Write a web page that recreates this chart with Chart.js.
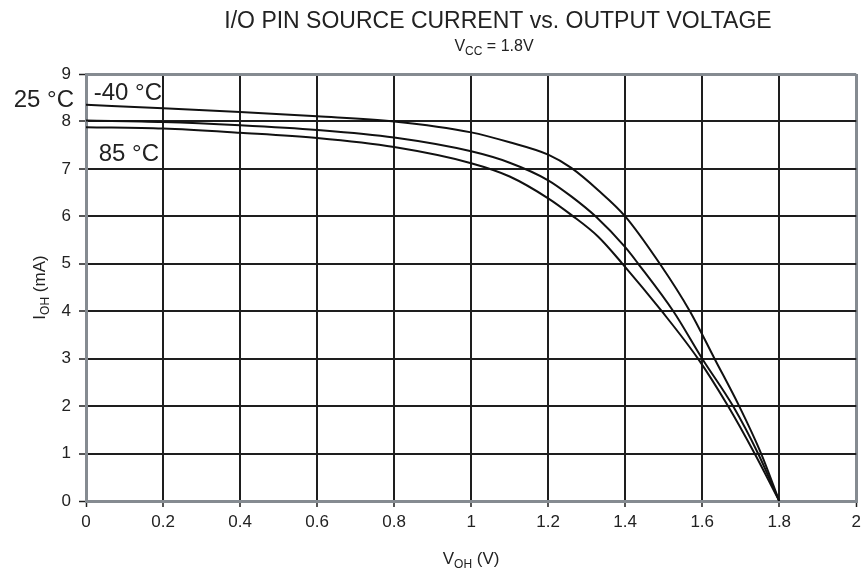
<!DOCTYPE html>
<html>
<head>
<meta charset="utf-8">
<script src="https://cdn.jsdelivr.net/npm/chart.js@4"></script>
<style>
  html, body { margin: 0; padding: 0; background: #fff; }
  #wrap { width: 866px; height: 577px; }
</style>
</head>
<body>
<div id="wrap"><canvas id="myChart" width="866" height="577"></canvas></div>
<script>
// values (V_OH in volts, I_OH in mA)
const xM40 = [0, 0.2, 0.4, 0.6, 0.8, 1.0, 1.1, 1.2, 1.26, 1.33, 1.4, 1.49, 1.568, 1.632, 1.696, 1.753, 1.8];
const yM40 = [8.35, 8.28, 8.2, 8.11, 8.0, 7.77, 7.56, 7.3, 7.02, 6.55, 6.0, 5, 4, 3, 2, 1, 0];

const x25 = [0, 0.2, 0.4, 0.6, 0.8, 1.0, 1.1, 1.2, 1.26, 1.323, 1.4, 1.434, 1.525, 1.6, 1.68, 1.745, 1.8];
const y25 = [8.02, 7.99, 7.92, 7.82, 7.66, 7.37, 7.13, 6.76, 6.42, 6.0, 5.35, 5, 4, 3, 2, 1, 0];

const x85 = [0, 0.2, 0.4, 0.6, 0.8, 1.0, 1.1, 1.2, 1.26, 1.33, 1.393, 1.495, 1.589, 1.667, 1.736, 1.8];
const y85 = [7.88, 7.85, 7.76, 7.65, 7.46, 7.12, 6.84, 6.38, 6.03, 5.57, 5, 4, 3, 2, 1, 0];

const xTickLabels = ["0", "0.2", "0.4", "0.6", "0.8", "1", "1.2", "1.4", "1.6", "1.8", "2"];
const yTickLabels = ["0", "1", "2", "3", "4", "5", "6", "7", "8", "9"];

const FONT = "'Liberation Sans', Arial, sans-serif";
const TEXT = "#222";
const GRID = "#1e1e1e";
const FRAME = "#858b91";

const toPoints = (xs, ys) => xs.map((x, i) => ({ x: x, y: ys[i] }));

// draws text with subscript parts, centred on x
const drawRich = (ctx, parts, x, y, size) => {
    const subSize = Math.round(size * 0.72);
    let w = 0;
    parts.forEach((p) => {
        ctx.font = (p.sub ? subSize : size) + "px " + FONT;
        p.w = ctx.measureText(p.t).width;
        w += p.w;
    });
    let cx = x - w / 2;
    ctx.textAlign = "left";
    ctx.textBaseline = "alphabetic";
    parts.forEach((p) => {
        ctx.font = (p.sub ? subSize : size) + "px " + FONT;
        ctx.fillText(p.t, cx, p.sub ? y + size * 0.22 : y);
        cx += p.w;
    });
};

const textPlugin = {
    id: "texts",
    afterDraw(chart) {
        const ctx = chart.ctx;
        const xs = chart.scales.x;
        const ys = chart.scales.y;
        const area = chart.chartArea;
        ctx.save();
        ctx.fillStyle = TEXT;

        // title + subtitle
        ctx.font = "23px " + FONT;
        ctx.textAlign = "center";
        ctx.textBaseline = "alphabetic";
        ctx.fillText("I/O PIN SOURCE CURRENT vs. OUTPUT VOLTAGE", 498, 28);
        drawRich(ctx, [{ t: "V" }, { t: "CC", sub: true }, { t: " = 1.8V" }], 494, 51, 16);

        // x axis title
        drawRich(ctx, [{ t: "V" }, { t: "OH", sub: true }, { t: " (V)" }], (area.left + area.right) / 2, 564, 17);

        // y axis title
        ctx.save();
        ctx.translate(45, (area.top + area.bottom) / 2);
        ctx.rotate(-Math.PI / 2);
        drawRich(ctx, [{ t: "I" }, { t: "OH", sub: true }, { t: " (mA)" }], 0, 0, 17);
        ctx.restore();

        // curve labels
        ctx.font = "24px " + FONT;
        ctx.textBaseline = "middle";
        ctx.textAlign = "left";
        ctx.fillText("-40 °C", xs.getPixelForValue(0.02), ys.getPixelForValue(8.6));
        ctx.fillText("85 °C", xs.getPixelForValue(0.033), ys.getPixelForValue(7.3));
        ctx.textAlign = "right";
        ctx.fillText("25 °C", area.left - 12, ys.getPixelForValue(8.45));
        ctx.restore();
    },
};

const edgeColor = (min, max) => (c) =>
    c.tick && (Math.abs(c.tick.value - min) < 1e-6 || Math.abs(c.tick.value - max) < 1e-6) ? FRAME : GRID;
const edgeWidth = (min, max) => (c) =>
    c.tick && (Math.abs(c.tick.value - min) < 1e-6 || Math.abs(c.tick.value - max) < 1e-6) ? 3 : 2;

const lineStyle = {
    borderColor: "#111",
    borderWidth: 2,
    pointRadius: 0,
    fill: false,
    cubicInterpolationMode: "monotone",
};

new Chart(document.getElementById("myChart"), {
    type: "line",
    data: {
        datasets: [
            { label: "-40 °C", data: toPoints(xM40, yM40), ...lineStyle },
            { label: "25 °C", data: toPoints(x25, y25), ...lineStyle },
            { label: "85 °C", data: toPoints(x85, y85), ...lineStyle },
        ],
    },
    options: {
        responsive: false,
        animation: false,
        layout: { padding: { top: 74, right: 8, left: 0, bottom: 0 } },
        plugins: {
            legend: { display: false },
            tooltip: { enabled: false },
        },
        scales: {
            x: {
                type: "linear",
                min: 0,
                max: 2,
                afterFit: (s) => { s.height = 76; },
                ticks: {
                    stepSize: 0.2,
                    color: TEXT,
                    font: { family: FONT, size: 17 },
                    padding: 5,
                    maxRotation: 0,
                    callback: (v, i) => xTickLabels[i],
                },
                grid: {
                    color: edgeColor(0, 2),
                    lineWidth: edgeWidth(0, 2),
                    tickLength: 6,
                    tickColor: GRID,
                    tickWidth: 1.5,
                },
                border: { color: FRAME, width: 3 },
            },
            y: {
                min: 0,
                max: 9,
                afterFit: (s) => { s.width = 86; },
                ticks: {
                    stepSize: 1,
                    color: TEXT,
                    font: { family: FONT, size: 17 },
                    padding: 8,
                    callback: (v, i) => yTickLabels[i],
                },
                grid: {
                    color: edgeColor(0, 9),
                    lineWidth: edgeWidth(0, 9),
                    tickLength: 7,
                    tickColor: GRID,
                    tickWidth: 1.5,
                },
                border: { color: FRAME, width: 3 },
            },
        },
    },
    plugins: [textPlugin],
});
</script>
</body>
</html>
